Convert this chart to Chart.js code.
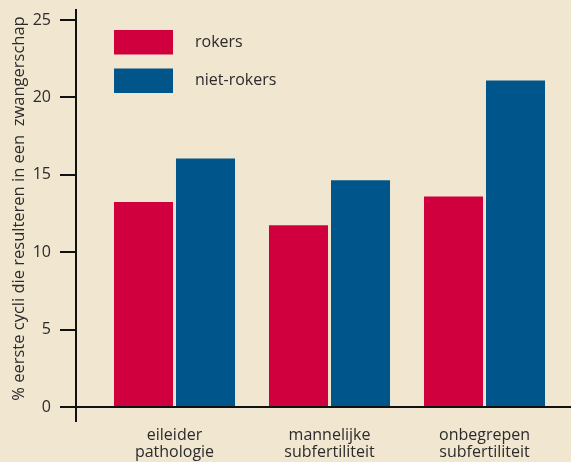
<!DOCTYPE html>
<html>
<head>
<meta charset="utf-8">
<script src="https://cdn.jsdelivr.net/npm/chart.js@4.4.0/dist/chart.umd.min.js"></script>
<style>
html,body{margin:0;padding:0;background:#F1E6D0;}
#wrap{width:571px;height:462px;}
</style>
</head>
<body>
<div id="wrap"><canvas id="c" width="571" height="462"></canvas></div>
<script>
const categories = [["eileider","pathologie"],["mannelijke","subfertiliteit"],["onbegrepen","subfertiliteit"]];
const seriesNames = ["rokers","niet-rokers"];
const rokers = [13.25, 11.75, 13.6];
const nietRokers = [16.05, 14.65, 21.1];
const yTicks = [0,5,10,15,20,25];
const yTitle = "% eerste cycli die resulteren in een  zwangerschap";

const RED = "#D0003F", BLUE = "#00568A", INK = "#2b2b2b", AXIS = "#111111";
const FONT = "'Open Sans', sans-serif";
const xPos = categories.map((_, i) => i + 1);
const X_MIN = 0.3645, X_MAX = 3.558;

const legendPlugin = {
  id: 'customLegend',
  afterDraw(chart) {
    const ctx = chart.ctx;
    const area = chart.chartArea;
    ctx.save();
    // extend the y axis line below the x axis
    ctx.strokeStyle = AXIS;
    ctx.lineWidth = 2;
    ctx.beginPath();
    ctx.moveTo(area.left, area.bottom);
    ctx.lineTo(area.left, area.bottom + 15);
    ctx.stroke();
    chart.data.datasets.forEach((ds, i) => {
      const y = 30 + i * 38.5;
      ctx.fillStyle = ds.backgroundColor;
      ctx.fillRect(114, y, 59, 24.5);
      ctx.fillStyle = INK;
      ctx.font = "16px " + FONT;
      ctx.textBaseline = "middle";
      ctx.textAlign = "left";
      ctx.fillText(ds.label, 195, y + 12);
    });
    ctx.restore();
  }
};

new Chart(document.getElementById('c'), {
  type: 'bar',
  data: {
    datasets: [
      { label: seriesNames[0], data: xPos.map((x, i) => ({x, y: rokers[i]})), backgroundColor: RED, borderWidth: 0 },
      { label: seriesNames[1], data: xPos.map((x, i) => ({x, y: nietRokers[i]})), backgroundColor: BLUE, borderWidth: 0 }
    ]
  },
  options: {
    responsive: false,
    animation: false,
    devicePixelRatio: 1,
    layout: { padding: { top: 10, left: 0, right: 0, bottom: 0 } },
    categoryPercentage: 0.8,
    barPercentage: 0.952,
    plugins: { legend: { display: false }, tooltip: { enabled: false } },
    scales: {
      x: {
        type: 'linear',
        offset: false,
        min: X_MIN, max: X_MAX,
        afterBuildTicks(scale) { scale.ticks = xPos.map(v => ({value: v})); },
        afterFit(scale) { scale.height = 55; scale.paddingLeft = 0; scale.paddingRight = 0; },
        ticks: {
          callback(v, i) { return categories[i]; },
          color: INK,
          font: { family: FONT, size: 16, lineHeight: 1.08 },
          padding: 5,
          maxRotation: 0, autoSkip: false
        },
        grid: {
          offset: false,
          drawOnChartArea: false, tickLength: 15, lineWidth: 2,
          color: 'rgba(0,0,0,0)'
        },
        border: { color: AXIS, width: 2 }
      },
      y: {
        min: 0, max: 25.65,
        afterBuildTicks(scale) { scale.ticks = yTicks.map(v => ({value: v})); },
        afterFit(scale) { scale.width = 76; scale.paddingTop = 0; scale.paddingBottom = 0; },
        ticks: { color: INK, font: { family: FONT, size: 16 }, padding: 9 },
        grid: { drawOnChartArea: false, tickLength: 16, lineWidth: 2, color: AXIS },
        border: { color: AXIS, width: 2 },
        title: { display: true, text: yTitle, color: INK, font: { family: FONT, size: 16.5 }, padding: { top: 9, bottom: 0 } }
      }
    }
  },
  plugins: [legendPlugin]
});
</script>
</body>
</html>
